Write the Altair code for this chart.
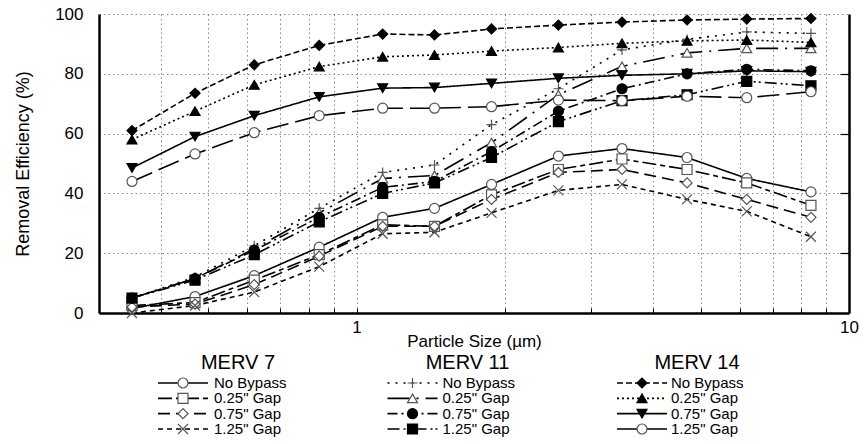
import altair as alt
import pandas as pd

# ---------------- data ----------------
sizes = [0.35, 0.47, 0.62, 0.84, 1.13, 1.44, 1.88, 2.57, 3.46, 4.69, 6.2, 8.37]
groups = ["MERV 7", "MERV 11", "MERV 14"]
cases = ["No Bypass", '0.25" Gap', '0.75" Gap', '1.25" Gap']

merv7_none = [1.5, 5.5, 12.5, 22, 32, 35, 43, 52.5, 55, 52, 45, 40.5]
merv7_g025 = [2.5, 3.5, 11, 19.5, 29.5, 29, 39.5, 48, 51.5, 48, 43.5, 36]
merv7_g075 = [2, 3, 9.5, 19, 29, 29, 38, 47, 48, 43.5, 38, 32]
merv7_g125 = [0, 2.5, 7, 15.5, 26.5, 27, 33.5, 41, 43, 38, 34, 25.5]

merv11_none = [5, 12, 22.5, 35, 47, 49.5, 63, 75, 88, 91.5, 94, 93.5]
merv11_g025 = [5, 11.5, 21.5, 33.5, 45, 46, 57, 73, 82.5, 87, 88.5, 88.5]
merv11_g075 = [5, 11.5, 21, 32, 42, 44, 54, 67.5, 75, 80, 81.5, 81]
merv11_g125 = [5, 11, 19.5, 30.5, 40, 43.5, 52, 64, 71, 73, 77.5, 76]

merv14_none = [61, 73.5, 83, 89.5, 93.3, 93, 95, 96.3, 97.3, 98, 98.3, 98.5]
merv14_g025 = [58, 67.5, 76.3, 82.4, 85.7, 86.3, 87.6, 88.8, 90.2, 91, 91.3, 90.5]
merv14_g075 = [48.5, 59, 66, 72.3, 75.2, 75.4, 76.8, 78.5, 79.5, 80, 81, 80.7]
merv14_g125 = [44, 53.2, 60.3, 66, 68.5, 68.5, 69, 71.2, 71, 72.5, 72, 74]

series_values = [
    [merv7_none, merv7_g025, merv7_g075, merv7_g125],
    [merv11_none, merv11_g025, merv11_g075, merv11_g125],
    [merv14_none, merv14_g025, merv14_g075, merv14_g125],
]

# ---------------- styles ----------------
PLUS = "M-1,0L1,0M0,-1L0,1"
CROSS = "M-1,-1L1,1M-1,1L1,-1"
dash_range = [
    [1, 0], [14, 4, 5, 4], [12, 6], [5, 4],
    [2, 6], [22, 7, 2, 7], [10, 4, 2, 4], [12, 4, 2, 3, 2, 4],
    [6, 3], [2, 3], [1, 0], [22, 7],
]
shape_range = [
    "circle", "square", "diamond", CROSS,
    PLUS, "triangle-up", "circle", "square",
    "diamond", "triangle-up", "triangle-down", "circle",
]
OPEN = "#555555"
fill_range = [
    "white", "white", "white", "white",
    "white", "white", "black", "black",
    "black", "black", "black", "white",
]
stroke_range = [
    OPEN, OPEN, OPEN, OPEN,
    OPEN, OPEN, "black", "black",
    "black", "black", "black", OPEN,
]

# ---------------- tables ----------------
keys, rows, leg_rows = [], [], []
for gi, g in enumerate(groups):
    for ri, c in enumerate(cases):
        k = f"{g} | {c}"
        keys.append(k)
        leg_rows.append({"key": k, "label": c, "gi": gi, "ri": ri})
        for s, v in zip(sizes, series_values[gi][ri]):
            rows.append({"key": k, "size": s, "eff": v})
df = pd.DataFrame(rows)
legdf = pd.DataFrame(leg_rows)
headdf = pd.DataFrame({"group": groups, "gi": list(range(len(groups)))})

dash_scale = alt.Scale(domain=keys, range=dash_range)
shape_scale = alt.Scale(domain=keys, range=shape_range)
fill_scale = alt.Scale(domain=keys, range=fill_range)
stroke_scale = alt.Scale(domain=keys, range=stroke_range)

W, H = 750, 299
FONT = "Liberation Sans"
grid_vals = [0.4, 0.5, 0.6, 0.7, 0.8, 0.9, 1, 2, 3, 4, 5, 6, 7, 8, 9, 10]
minor_vals = [0.4, 0.5, 0.6, 0.7, 0.8, 0.9, 1, 2, 3, 4, 5, 6, 7, 8, 9]

xscale = alt.Scale(type="log", domain=[0.3, 10], nice=False)
yscale = alt.Scale(domain=[0, 100], nice=False, zero=False)

x_main_axis = alt.Axis(
    values=grid_vals, grid=True, gridColor="#888888", gridDash=[1.5, 3], gridWidth=1,
    ticks=False, tickSize=0, domainColor="black", domainWidth=2.5,
    labelExpr="datum.value == 1 ? '1' : (datum.value == 10 ? '10' : '')",
    labelFontSize=17, labelColor="black", labelPadding=6, labelFlush=False,
    labelOverlap=False, title="Particle Size (\u00b5m)", titleFontSize=17,
    titleFontWeight="normal", titleColor="black", titleY=33, titleBaseline="alphabetic",
)
y_main_axis = alt.Axis(
    values=[0, 20, 40, 60, 80, 100], grid=True, gridColor="#888888", gridDash=[1.5, 3],
    gridWidth=1, ticks=False, tickSize=0, domainColor="black", domainWidth=2.5,
    labelFontSize=17, labelColor="black", labelPadding=16,
    title="Removal Efficiency (%)", titleFontSize=18, titleFontWeight="normal",
    titleColor="black", titlePadding=22,
)
x_tick_axis = alt.Axis(
    orient="top", offset=-H, values=minor_vals, labels=False, domain=False, grid=False,
    ticks=True, tickSize=5, tickColor="black", tickWidth=1, title=None,
)
y_right_axis = alt.Axis(
    orient="left", offset=-W, values=[20, 40, 60, 80], labels=False, grid=False,
    ticks=True, tickSize=9, tickColor="black", tickWidth=1.2, domain=True,
    domainColor="black", domainWidth=2.5, title=None,
)

lines = alt.Chart(df).mark_line(strokeWidth=1.6, color="black").encode(
    x=alt.X("size:Q", scale=xscale, axis=x_main_axis),
    y=alt.Y("eff:Q", scale=yscale, axis=y_main_axis),
    strokeDash=alt.StrokeDash("key:N", scale=dash_scale, legend=None),
    detail="key:N",
)

points = alt.Chart(df).mark_point(size=100, strokeWidth=1.2, opacity=1).encode(
    x=alt.X("size:Q", scale=xscale, axis=x_tick_axis),
    y=alt.Y("eff:Q", scale=yscale, axis=y_right_axis),
    shape=alt.Shape("key:N", scale=shape_scale, legend=None),
    fill=alt.Fill("key:N", scale=fill_scale, legend=None),
    stroke=alt.Stroke("key:N", scale=stroke_scale, legend=None),
)

leg_y = alt.Y("ri:Q", scale=alt.Scale(domain=[0, 3], range=[369, 415], nice=False, zero=False), axis=None)

leg_lines = alt.Chart(legdf).mark_point(
    shape="M-1,0L1,0", size=2500, strokeWidth=1.6, stroke="black", filled=False, opacity=1
).encode(
    x=alt.X("gi:Q", scale=alt.Scale(domain=[0, 2], range=[84, 543], nice=False, zero=False), axis=None),
    y=leg_y,
    strokeDash=alt.StrokeDash("key:N", scale=dash_scale, legend=None),
)

leg_marks = alt.Chart(legdf).mark_point(size=100, strokeWidth=1.2, opacity=1).encode(
    x=alt.X("gi:Q", scale=alt.Scale(domain=[0, 2], range=[84, 543], nice=False, zero=False), axis=None),
    y=leg_y,
    shape=alt.Shape("key:N", scale=shape_scale, legend=None),
    fill=alt.Fill("key:N", scale=fill_scale, legend=None),
    stroke=alt.Stroke("key:N", scale=stroke_scale, legend=None),
)

leg_text = alt.Chart(legdf).mark_text(
    align="left", baseline="middle", fontSize=15, font=FONT, color="black"
).encode(
    x=alt.X("gi:Q", scale=alt.Scale(domain=[0, 2], range=[115, 572], nice=False, zero=False), axis=None),
    y=leg_y,
    text="label:N",
)

leg_head = alt.Chart(headdf).mark_text(
    align="center", baseline="alphabetic", fontSize=20, font=FONT, color="black"
).encode(
    x=alt.X("gi:Q", scale=alt.Scale(domain=[0, 2], range=[139, 598], nice=False, zero=False), axis=None),
    y=alt.value(355),
    text="group:N",
)

chart = alt.layer(lines, points, leg_lines, leg_marks, leg_text, leg_head).resolve_scale(
    x="independent", y="independent"
).properties(
    width=W, height=H,
    autosize=alt.AutoSizeParams(type="none"),
    padding={"left": 99, "top": 14, "right": 15, "bottom": 131},
    background="white",
).configure(font=FONT).configure_view(strokeWidth=0)

chart.save("out.html", embed_options={"renderer": "svg", "actions": False})
